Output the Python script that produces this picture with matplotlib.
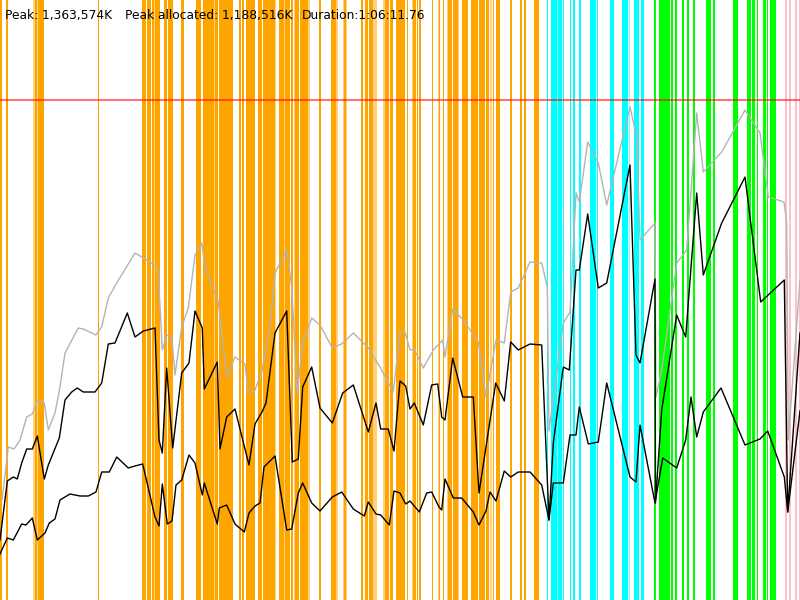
import matplotlib
matplotlib.use("Agg")
import matplotlib.pyplot as plt

# GC events (start, end) on the time axis, by phase
orange_events = [(0, 1.7), (6, 7.7), (35, 37.3), (38, 43.7), (97.7, 98.7), (141.7, 146), (147.3, 151),
                 (152.3, 154), (155.3, 156.7), (156.7, 160), (164.3, 166.7), (167.7, 172.7), (181, 184),
                 (196, 201), (202.7, 214), (215.3, 217.7), (218.7, 232.7), (238.7, 241), (242.3, 244.3),
                 (246, 254.7), (258, 262), (263.3, 275), (279, 284), (285, 290), (291, 293.3),
                 (295, 299.3), (300, 307.7), (319, 321), (331, 336), (344, 346), (360.7, 362.7),
                 (364.7, 367.7), (369.3, 373.3), (385, 389.3), (390, 392.7), (396, 405), (407.3, 408.3),
                 (412.7, 415.7), (417.3, 418.3), (419.3, 420.7), (431.7, 433.3), (439.3, 440),
                 (442.7, 444), (448.3, 451.7), (452.7, 458.3), (461.7, 468.3), (471, 478.3), (479, 485),
                 (485.7, 489.3), (492.7, 494.3), (495.7, 500), (510, 512), (520, 522), (523.7, 526),
                 (534.3, 539)]
orange_minor = [(33, 35), (37.3, 38), (154, 155.3), (214, 215.3), (275, 276), (284, 285), (294, 295),
                (307.7, 310), (336, 337.7), (342.7, 344), (346, 347.3), (373.3, 376.7), (383.3, 385),
                (411.7, 412.7), (437.7, 439.3), (446.7, 448.3), (458.3, 459.3), (490, 491.7)]
cyan_events = [(546.7, 547.7), (551, 556.7), (558.3, 562), (562.7, 564), (570, 571.3), (572.7, 575),
               (579.3, 580.7), (590, 596), (596.7, 597.7), (610, 614), (622, 628), (634, 638.7),
               (640.7, 644)]
cyan_minor = [(556.7, 558.3), (629.3, 630.3)]
green_events = [(654, 655.5), (658.7, 664.5), (665.3, 670), (671, 673), (675.3, 677), (681.7, 683.7),
                (687, 689), (693, 695), (706, 711), (712.7, 715), (732.7, 738.3), (747.3, 751),
                (751.7, 755), (756.7, 758.3), (762.7, 765.7), (766.7, 767.7), (770, 776)]
pink_events = [(785.3, 787), (789.3, 791), (795, 796.7), (799.3, 800)]

# heap lines (time, level from top)
total_x = [2, 8.3, 14, 20, 26.7, 32.3, 37.3, 44.3, 48.3, 55, 60, 65, 78.3, 83.3, 96, 101.7, 108.3,
           116.7, 135, 155, 158.3, 162.3, 166.7, 171.7, 175, 181.7, 188.3, 195, 201.7, 205, 218.3,
           226.7, 235, 245, 248.3, 255, 261.7, 270, 275, 286.7, 291.7, 297.3, 302.7, 311.7, 320,
           332.3, 341.7, 353.3, 368.3, 380, 393.3, 400, 405, 410, 414, 423.3, 433.3, 442.7, 445,
           452.7, 463.3, 478.3, 486, 496, 504.3, 510.7, 518.3, 530, 541.7, 547.3, 549, 563.3, 570,
           576, 579.3, 587.7, 598.3, 606.7, 630, 636.7, 640, 655, 656, 661.7, 676.7, 686.7, 696.7,
           703.3, 721.7, 745, 760, 768.3, 784, 786.7, 788.3, 800]
total_y = [500, 447, 449, 440, 417, 414, 401, 403, 430, 413, 387, 353, 328, 329, 335, 327, 298,
           283, 253, 265, 273, 350, 335, 337, 375, 327, 308, 255, 243, 267, 302,
           377, 357, 364, 393, 390, 372, 327, 273, 250, 287, 393, 343, 318, 325,
           348, 344, 333, 348, 367, 392, 332, 332, 350, 349, 368, 350, 340, 357,
           309, 320, 342, 397, 340, 343, 292, 288, 262, 263, 287, 431, 323, 312,
           193, 202, 142, 163, 205, 107, 137, 240, 223, 397, 370, 263, 250, 113,
           172, 152, 110, 133, 197, 202, 223, 440, 280]

before_x = [0, 7.3, 13.3, 17.3, 21.7, 26.7, 32.3, 37.3, 44.3, 48.3, 59.3, 65, 71.7, 77.3, 83.3, 95,
            101.7, 108.3, 115, 127.3, 135, 143.3, 155, 159, 162.3, 166.7, 172.7, 181.7, 189, 195,
            202.3, 204.3, 217.3, 220, 226.7, 235, 249, 255, 262, 266, 275, 286.7, 292.3, 298.3,
            302.7, 311.7, 320, 332.3, 342.7, 353.3, 368.3, 376, 380.7, 388.3, 394, 400, 405.7, 410,
            414.3, 423.3, 431.7, 437.7, 441.7, 445, 452.7, 462.7, 473.3, 479, 495.7, 504.3, 510.7,
            518.3, 530, 541.7, 549, 553.3, 563.3, 569.3, 576, 579.3, 587.7, 598.3, 606.7, 630, 636,
            640, 655, 655.5, 661.7, 676.7, 685.7, 696.7, 703.3, 721.7, 745, 760.7, 784.3, 787.7, 800]
before_y = [540, 481, 477, 479, 463, 449, 449, 436, 479, 465, 438, 400, 392, 388, 392, 392,
            383, 344, 343, 313, 337, 331, 328, 440, 453, 368, 448, 373, 363, 311,
            328, 389, 362, 449, 417, 409, 465, 424, 412, 403, 333, 311, 462, 459,
            387, 367, 408, 423, 393, 385, 432, 403, 429, 429, 451, 381, 386, 409,
            403, 425, 385, 384, 417, 420, 358, 397, 397, 493, 383, 401, 342,
            350, 344, 345, 520, 443, 367, 370, 270, 270, 214, 288, 283, 165, 355,
            363, 279, 503, 410, 315, 337, 193, 275, 223, 177, 302, 280, 512, 333]

after_x = [0, 7.3, 13.3, 21.7, 26, 32.3, 37.3, 45, 49.3, 55, 60, 70, 80, 88.3, 96, 101.7, 109.3,
           116.7, 128.3, 135, 142.7, 155, 159, 162.3, 167.3, 172, 176, 181.7, 189, 195, 202.3,
           204.3, 217.3, 219.3, 226.7, 235, 244.3, 249, 255, 260, 264, 275, 286.7, 291.7, 298.3,
           302.7, 311.7, 320, 332.3, 341.7, 353.3, 364.3, 368.3, 376, 380.7, 389.3, 394, 400, 405.7,
           410, 419.3, 426.7, 431.7, 439, 441.7, 445, 453.3, 461.7, 473.3, 479, 486, 490, 496,
           504.3, 510.7, 518.3, 530, 541.7, 549, 553.3, 563.3, 570, 576, 579.3, 588.3, 598.3,
           606.7, 630, 636, 640, 655, 662.7, 676.7, 685.7, 691, 696.7, 703.3, 721, 745, 760,
           767.7, 784.3, 787.7, 800]
after_y = [554, 538, 540, 524, 525, 518, 540, 533, 523, 519, 500, 494, 496, 496, 492, 472, 472,
           457, 468, 466, 464, 517, 526, 484, 524, 521, 485, 480, 455, 463, 495,
           483, 524, 508, 505, 524, 532, 513, 506, 503, 467, 456, 530, 529, 493,
           483, 503, 511, 497, 492, 509, 516, 502, 514, 515, 525, 491, 493, 504,
           501, 512, 493, 492, 507, 510, 479, 498, 498, 512, 525, 511, 492, 501,
           471, 477, 472, 472, 485, 520, 483, 483, 435, 435, 407, 444, 442,
           383, 477, 482, 425, 503, 458, 468, 440, 397, 437, 412, 388, 445, 439,
           431, 477, 512, 411]

max_heap_level = 100
summary = ["Peak: 1,363,574K", "Peak allocated: 1,188,516K", "Duration:1:06:11.76"]
summary_pos = [5, 125, 302]

fig = plt.figure(figsize=(8, 6), dpi=100)
ax = fig.add_axes([0, 0, 1, 1])
ax.set_xlim(0, 800)
ax.set_ylim(600, 0)
ax.axis("off")

for events, color, alpha in [(orange_events, "#ffa500", 1.0), (orange_minor, "#ffa500", 0.5),
                             (cyan_events, "#00ffff", 1.0), (cyan_minor, "#00ffff", 0.5),
                             (green_events, "#00ff00", 1.0), (pink_events, "#ffc0cb", 1.0)]:
    for start, end in events:
        ax.axvspan(start, end, color=color, alpha=alpha, lw=0, antialiased=False, zorder=1)

ax.axhline(max_heap_level, color="red", alpha=0.55, lw=1.5, zorder=2)
ax.plot(total_x, total_y, color="#b4b4b4", lw=1, zorder=3)
ax.plot(before_x, before_y, color="black", lw=1, zorder=4)
ax.plot(after_x, after_y, color="black", lw=1, zorder=4)

for s, px in zip(summary, summary_pos):
    fig.text(px / 800, 1 - 19 / 600, s, fontsize=8.8, family="DejaVu Sans", va="baseline")

fig.savefig("out.png", dpi=100)
